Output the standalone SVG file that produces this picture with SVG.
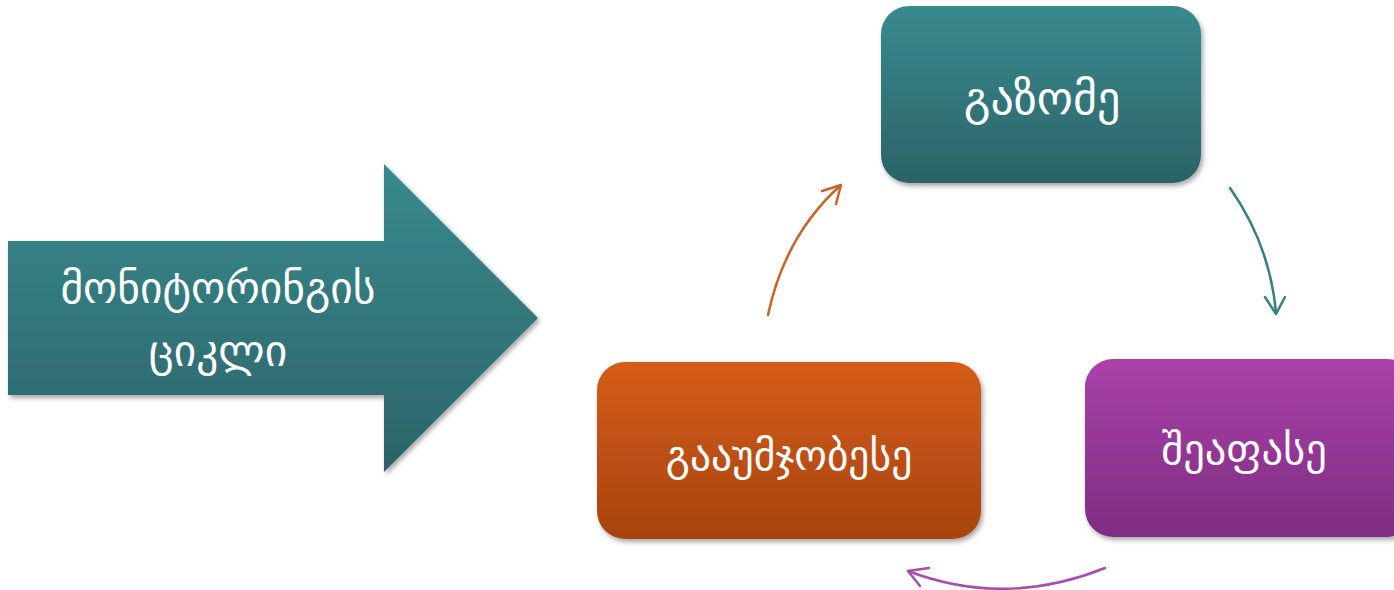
<svg xmlns="http://www.w3.org/2000/svg" width="1394" height="590" viewBox="0 0 1394 590">
  <style>
    .lbl { font-family: "DejaVu Sans", "Noto Sans", sans-serif; fill: #ffffff; text-anchor: middle; }
    .conn { fill: none; stroke-width: 2.5; stroke-linecap: round; stroke-linejoin: round; }
  </style>
  <defs>
    <linearGradient id="gTeal" x1="0" y1="0" x2="0" y2="1">
      <stop offset="0" stop-color="#398a8e"/>
      <stop offset="1" stop-color="#2b6368"/>
    </linearGradient>
    <linearGradient id="gPurple" x1="0" y1="0" x2="0" y2="1">
      <stop offset="0" stop-color="#a941a9"/>
      <stop offset="1" stop-color="#7e2d81"/>
    </linearGradient>
    <linearGradient id="gOrange" x1="0" y1="0" x2="0" y2="1">
      <stop offset="0" stop-color="#d65c16"/>
      <stop offset="1" stop-color="#a6440f"/>
    </linearGradient>
    <filter id="shadow" x="-10%" y="-10%" width="125%" height="130%">
      <feDropShadow dx="2" dy="3" stdDeviation="2.5" flood-color="#000000" flood-opacity="0.35"/>
    </filter>
  </defs>

  <!-- big title arrow -->
  <g id="title-arrow">
    <path d="M8,241 L384,241 L384,164 L538,318 L384,472 L384,395 L8,395 Z" fill="url(#gTeal)" filter="url(#shadow)"/>
    <text class="lbl" x="218" y="303" font-size="43.5">მონიტორინგის</text>
    <text class="lbl" x="218" y="366" font-size="43.5">ციკლი</text>
  </g>

  <!-- cycle steps -->
  <g id="step-measure">
    <rect x="881" y="6" width="320" height="177" rx="28" fill="url(#gTeal)" filter="url(#shadow)"/>
    <text class="lbl" x="1042" y="114" font-size="46">გაზომე</text>
  </g>
  <g id="step-evaluate">
    <rect x="1085" y="359" width="330" height="178" rx="28" fill="url(#gPurple)" filter="url(#shadow)"/>
    <text class="lbl" x="1244" y="464" font-size="42.5">შეაფასე</text>
  </g>
  <g id="step-improve">
    <rect x="597" y="362" width="384" height="177" rx="28" fill="url(#gOrange)" filter="url(#shadow)"/>
    <text class="lbl" x="789" y="470" font-size="41.5">გააუმჯობესე</text>
  </g>

  <!-- curved connectors between steps -->
  <g id="connectors">
    <path class="conn" stroke="#3a7f83" d="M1230,188 Q1270,245 1276,313"/>
    <path class="conn" stroke="#3a7f83" d="M1265,297 L1276,314 L1285,297"/>

    <path class="conn" stroke="#a54ea8" d="M1105,568 Q1005,608 908,571"/>
    <path class="conn" stroke="#a54ea8" d="M929,568 L908,571 L920,586"/>

    <path class="conn" stroke="#c8642a" d="M768,315 Q785,235 841,185"/>
    <path class="conn" stroke="#c8642a" d="M822,191 L841,185 L836,204"/>
  </g>
</svg>
